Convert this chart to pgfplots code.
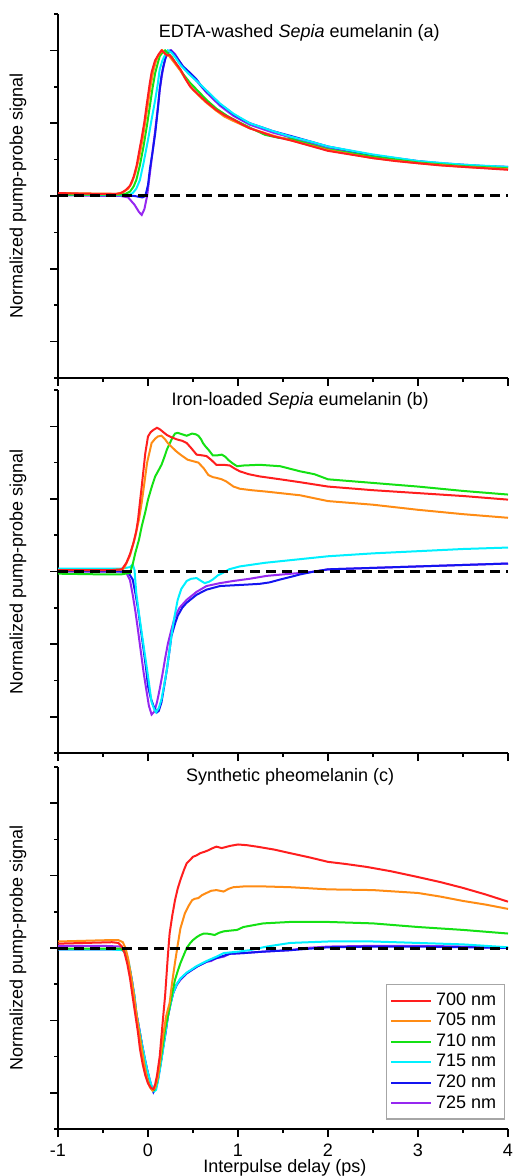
\documentclass[border=0pt]{standalone}
\usepackage{pgfplots}
\pgfplotsset{compat=1.18}
\usepackage{fontspec}
\setmainfont{Liberation Sans}
\definecolor{c700}{RGB}{255,30,30}
\definecolor{c705}{RGB}{255,140,20}
\definecolor{c710}{RGB}{20,225,20}
\definecolor{c715}{RGB}{0,240,255}
\definecolor{c720}{RGB}{20,20,240}
\definecolor{c725}{RGB}{150,40,240}
\pgfplotsset{every axis title shift=0pt}
\pgfplotsset{panel/.style={
  scale only axis, width=225pt,
  xmin=-1, xmax=4, ymin=-2.5, ymax=2.5,
  axis lines=left, axis line style={-, line width=0.8pt},
  xtick={-1,0,1,2,3,4}, minor xtick={-0.5,0.5,1.5,2.5,3.5},
  ytick={-2,-1,0,1,2}, minor ytick={-2.5,-1.5,-0.5,0.5,1.5,2.5},
  yticklabels={},
  tick align=outside, major tick length=4pt, minor tick length=2pt,
  every tick/.style={line width=0.8pt, black},
  every minor tick/.style={line width=0.8pt, black},
  /pgf/number format/assume math mode=true,
  font=\fontsize{9}{11}\selectfont,
  ylabel={Normalized pump-probe signal},
  ylabel style={at={(axis description cs:-0.0889,0.5)}, anchor=center},
  every axis plot/.append style={line width=1pt},
}}
\begin{document}
\begin{tikzpicture}
\useasboundingbox (0,0) rectangle (256.5pt,-588pt);
% ---------------- panel (a)
\begin{axis}[panel, height=182pt, at={(29pt,-189pt)}, anchor=south west,
  xticklabels={},
  title={EDTA-washed \textit{Sepia} eumelanin (a)},
  title style={at={(axis description cs:0.536,0.948)}, anchor=center}]
\addplot[c725] coordinates {(-1,0.01) (-0.3,0.0) (-0.22,-0.02) (-0.15,-0.12) (-0.1,-0.22) (-0.07,-0.26) (-0.04,-0.18) (-0.01,0.0) (0.02,0.3) (0.05,0.6) (0.08,0.9) (0.11,1.22) (0.13,1.46) (0.16,1.7) (0.19,1.88) (0.22,1.97) (0.26,2.0) (0.3,1.95) (0.39,1.77) (0.54,1.58) (0.65,1.42) (0.8,1.24) (0.95,1.1) (1.13,0.98) (1.39,0.87) (1.6,0.8) (2.0,0.66) (2.5,0.55) (3.0,0.47) (3.5,0.42) (4.0,0.39)};
\addplot[c720] coordinates {(-1,0.02) (-0.3,0.01) (-0.15,0.0) (-0.06,-0.02) (-0.03,0.0) (0.0,0.15) (0.02,0.36) (0.05,0.6) (0.08,0.86) (0.11,1.2) (0.13,1.46) (0.15,1.65) (0.17,1.78) (0.2,1.92) (0.22,1.99) (0.25,2.0) (0.28,1.96) (0.32,1.9) (0.39,1.78) (0.46,1.7) (0.54,1.6) (0.6,1.5) (0.65,1.44) (0.72,1.36) (0.8,1.26) (0.88,1.19) (0.95,1.12) (1.05,1.05) (1.13,1.0) (1.25,0.95) (1.39,0.89) (1.6,0.82) (1.8,0.75) (2.0,0.68) (2.25,0.62) (2.5,0.56) (2.75,0.52) (3.0,0.48) (3.25,0.45) (3.5,0.43) (3.75,0.41) (4.0,0.40)};
\addplot[c715] coordinates {(-1,0.02) (-0.3,0.01) (-0.2,0.02) (-0.17,0.04) (-0.13,0.1) (-0.09,0.22) (-0.05,0.45) (0.0,0.77) (0.04,1.05) (0.08,1.32) (0.11,1.55) (0.13,1.74) (0.16,1.86) (0.19,1.94) (0.22,2.0) (0.26,1.97) (0.3,1.91) (0.36,1.8) (0.45,1.68) (0.54,1.58) (0.65,1.45) (0.8,1.27) (0.95,1.13) (1.13,1.0) (1.39,0.89) (1.6,0.81) (1.8,0.75) (2.0,0.68) (2.5,0.57) (3.0,0.48) (3.5,0.43) (4.0,0.40)};
\addplot[c710] coordinates {(-1,0.02) (-0.3,0.02) (-0.25,0.03) (-0.2,0.06) (-0.16,0.13) (-0.13,0.22) (-0.09,0.42) (-0.05,0.68) (-0.01,0.98) (0.02,1.23) (0.05,1.48) (0.08,1.69) (0.11,1.83) (0.13,1.92) (0.16,1.97) (0.19,2.0) (0.22,1.96) (0.27,1.9) (0.33,1.78) (0.4,1.66) (0.47,1.55) (0.55,1.45) (0.65,1.32) (0.76,1.2) (0.88,1.1) (1.0,1.02) (1.13,0.94) (1.3,0.84) (1.45,0.8) (1.6,0.78) (1.8,0.71) (2.0,0.64) (2.5,0.54) (3.0,0.46) (3.5,0.41) (4.0,0.38)};
\addplot[c705] coordinates {(-1,0.04) (-0.35,0.03) (-0.28,0.05) (-0.22,0.1) (-0.18,0.18) (-0.14,0.32) (-0.1,0.52) (-0.06,0.78) (-0.03,1.02) (0.0,1.27) (0.03,1.52) (0.06,1.72) (0.09,1.86) (0.12,1.94) (0.16,2.0) (0.19,1.95) (0.23,1.93) (0.3,1.82) (0.36,1.72) (0.42,1.6) (0.5,1.46) (0.58,1.36) (0.65,1.28) (0.76,1.17) (0.85,1.09) (0.95,1.03) (1.13,0.93) (1.39,0.83) (1.6,0.76) (2.0,0.63) (2.5,0.52) (3.0,0.45) (3.5,0.40) (4.0,0.37)};
\addplot[c700] coordinates {(-1,0.04) (-0.6,0.03) (-0.35,0.03) (-0.3,0.04) (-0.25,0.08) (-0.2,0.14) (-0.16,0.26) (-0.126,0.42) (-0.1,0.6) (-0.07,0.8) (-0.04,1.02) (-0.015,1.25) (0.02,1.55) (0.04,1.7) (0.078,1.86) (0.12,1.95) (0.15,2.0) (0.18,1.97) (0.21,1.93) (0.24,1.94) (0.3,1.84) (0.36,1.74) (0.42,1.6) (0.47,1.5) (0.52,1.44) (0.58,1.37) (0.65,1.29) (0.76,1.18) (0.85,1.11) (0.95,1.05) (1.05,0.98) (1.13,0.93) (1.25,0.88) (1.39,0.82) (1.6,0.76) (1.8,0.69) (2.0,0.62) (2.25,0.57) (2.5,0.52) (2.75,0.48) (3.0,0.45) (3.25,0.42) (3.5,0.40) (3.75,0.38) (4.0,0.36)};
\addplot[black, line width=1.5pt, dash pattern=on 5pt off 3pt, forget plot] coordinates {(-1,0) (4,0)};
\end{axis}
% ---------------- panel (b)
\begin{axis}[panel, height=181.5pt, at={(29pt,-376.5pt)}, anchor=south west,
  xticklabels={},
  title={Iron-loaded \textit{Sepia} eumelanin (b)},
  title style={at={(axis description cs:0.538,0.97)}, anchor=center}]
\addplot[c725] coordinates {(-1,0.0) (-0.3,0.0) (-0.24,-0.02) (-0.2,-0.12) (-0.17,-0.32) (-0.14,-0.55) (-0.11,-0.82) (-0.08,-1.1) (-0.05,-1.38) (-0.02,-1.62) (0.01,-1.85) (0.04,-1.97) (0.07,-1.93) (0.1,-1.8) (0.13,-1.62) (0.16,-1.42) (0.19,-1.2) (0.22,-1.0) (0.26,-0.8) (0.3,-0.62) (0.35,-0.5) (0.43,-0.39) (0.54,-0.28) (0.65,-0.2) (0.8,-0.16) (0.95,-0.13) (1.13,-0.1) (1.32,-0.06) (1.5,-0.04) (1.69,-0.02) (1.85,0.0) (2.0,0.03) (2.5,0.05) (3.0,0.07) (3.5,0.09) (4.0,0.11)};
\addplot[c720] coordinates {(-1,0.01) (-0.3,0.0) (-0.22,-0.01) (-0.17,-0.11) (-0.14,-0.3) (-0.11,-0.52) (-0.08,-0.8) (-0.05,-1.07) (-0.02,-1.35) (0.0,-1.58) (0.03,-1.74) (0.06,-1.85) (0.1,-1.94) (0.12,-1.92) (0.15,-1.8) (0.18,-1.58) (0.21,-1.35) (0.24,-1.08) (0.26,-0.89) (0.3,-0.72) (0.33,-0.61) (0.38,-0.5) (0.43,-0.43) (0.54,-0.32) (0.65,-0.25) (0.8,-0.2) (0.95,-0.19) (1.1,-0.18) (1.24,-0.17) (1.35,-0.15) (1.47,-0.11) (1.6,-0.07) (1.69,-0.04) (1.85,0.0) (2.0,0.03) (2.5,0.05) (3.0,0.07) (3.5,0.09) (4.0,0.11)};
\addplot[c715] coordinates {(-1,0.04) (-0.3,0.04) (-0.2,0.06) (-0.17,0.1) (-0.15,0.02) (-0.13,-0.3) (-0.1,-0.58) (-0.07,-0.84) (-0.04,-1.1) (-0.01,-1.35) (0.02,-1.62) (0.04,-1.8) (0.07,-1.9) (0.09,-1.94) (0.12,-1.88) (0.15,-1.76) (0.18,-1.56) (0.21,-1.35) (0.24,-1.08) (0.26,-0.89) (0.29,-0.65) (0.33,-0.39) (0.37,-0.24) (0.43,-0.13) (0.48,-0.1) (0.54,-0.09) (0.59,-0.13) (0.63,-0.16) (0.68,-0.14) (0.72,-0.11) (0.78,-0.05) (0.83,-0.02) (0.9,0.03) (1.02,0.07) (1.3,0.12) (1.69,0.17) (2.0,0.21) (2.5,0.25) (3.0,0.28) (3.5,0.31) (4.0,0.33)};
\addplot[c710] coordinates {(-1,-0.03) (-0.5,-0.04) (-0.3,-0.04) (-0.2,-0.02) (-0.17,0.1) (-0.14,0.26) (-0.1,0.44) (-0.07,0.62) (-0.03,0.82) (0.0,0.99) (0.04,1.16) (0.08,1.31) (0.12,1.4) (0.15,1.47) (0.18,1.57) (0.21,1.68) (0.24,1.76) (0.27,1.84) (0.3,1.9) (0.33,1.91) (0.38,1.89) (0.43,1.87) (0.49,1.9) (0.53,1.89) (0.56,1.87) (0.59,1.82) (0.61,1.77) (0.64,1.72) (0.67,1.68) (0.72,1.6) (0.77,1.6) (0.82,1.61) (0.86,1.58) (0.89,1.54) (0.94,1.49) (0.99,1.45) (1.06,1.46) (1.24,1.47) (1.47,1.45) (1.69,1.38) (1.85,1.34) (2.0,1.27) (2.5,1.22) (3.0,1.17) (3.5,1.11) (4.0,1.06)};
\addplot[c705] coordinates {(-1,0.02) (-0.4,0.02) (-0.28,0.03) (-0.26,0.06) (-0.2,0.22) (-0.14,0.49) (-0.1,0.72) (-0.07,0.95) (-0.04,1.22) (-0.01,1.5) (0.02,1.66) (0.04,1.77) (0.08,1.83) (0.11,1.86) (0.15,1.87) (0.19,1.82) (0.22,1.77) (0.26,1.72) (0.31,1.66) (0.36,1.61) (0.44,1.54) (0.5,1.52) (0.56,1.5) (0.62,1.42) (0.67,1.33) (0.72,1.3) (0.76,1.29) (0.82,1.27) (0.87,1.24) (0.95,1.17) (1.02,1.14) (1.15,1.12) (1.32,1.1) (1.69,1.05) (2.0,0.97) (2.5,0.92) (3.0,0.85) (3.5,0.79) (4.0,0.74)};
\addplot[c700] coordinates {(-1,0.02) (-0.4,0.02) (-0.29,0.03) (-0.24,0.12) (-0.2,0.24) (-0.16,0.4) (-0.13,0.56) (-0.11,0.72) (-0.09,0.95) (-0.07,1.17) (-0.05,1.4) (-0.03,1.63) (0.0,1.86) (0.03,1.92) (0.06,1.95) (0.1,1.98) (0.13,1.96) (0.17,1.92) (0.21,1.88) (0.26,1.85) (0.32,1.82) (0.38,1.8) (0.43,1.77) (0.48,1.7) (0.54,1.61) (0.6,1.6) (0.65,1.59) (0.7,1.54) (0.76,1.47) (0.84,1.47) (0.91,1.46) (0.96,1.42) (1.02,1.38) (1.12,1.34) (1.24,1.31) (1.47,1.27) (1.69,1.23) (2.0,1.17) (2.5,1.12) (3.0,1.08) (3.5,1.04) (4.0,0.99)};
\addplot[black, line width=1.5pt, dash pattern=on 5pt off 3pt, forget plot] coordinates {(-1,0) (4,0)};
\end{axis}
% ---------------- panel (c)
\begin{axis}[panel, height=181pt, at={(29pt,-564.5pt)}, anchor=south west,
  title={Synthetic pheomelanin (c)},
  title style={at={(axis description cs:0.516,0.972)}, anchor=center},
  xlabel={Interpulse delay (ps)},
  xlabel style={at={(axis description cs:0.504,-0.108)}, anchor=center},
  reverse legend,
  legend style={at={(rel axis cs:0.993,0.40)}, anchor=north east, draw=gray!70, line width=0.6pt,
    font=\fontsize{9}{11}\selectfont, row sep=-1.5pt, inner xsep=2pt, inner ysep=2pt},
  legend cell align=left,
  legend image code/.code={\draw[#1] (0pt,0pt) -- (20pt,0pt);}]
\addplot[c725] coordinates {(-1,0.03) (-0.5,0.03) (-0.3,0.02) (-0.26,-0.03) (-0.23,-0.15) (-0.2,-0.32) (-0.18,-0.44) (-0.15,-0.68) (-0.13,-0.9) (-0.1,-1.1) (-0.07,-1.31) (-0.04,-1.52) (-0.01,-1.68) (0.02,-1.82) (0.04,-1.91) (0.07,-1.97) (0.09,-1.92) (0.11,-1.82) (0.14,-1.6) (0.17,-1.36) (0.2,-1.14) (0.22,-0.95) (0.25,-0.77) (0.28,-0.62) (0.32,-0.51) (0.36,-0.44) (0.43,-0.35) (0.54,-0.26) (0.65,-0.19) (0.7,-0.18) (0.76,-0.14) (0.84,-0.12) (0.91,-0.08) (1.06,-0.07) (1.28,-0.05) (1.58,-0.03) (1.75,0.0) (2.0,0.02) (2.5,0.03) (3.0,0.03) (3.5,0.02) (4.0,0.0)};
\addlegendentry{725 nm}
\addplot[c720] coordinates {(-1,-0.02) (-0.3,-0.02) (-0.26,-0.04) (-0.23,-0.15) (-0.2,-0.3) (-0.18,-0.44) (-0.15,-0.68) (-0.13,-0.9) (-0.1,-1.1) (-0.07,-1.31) (-0.04,-1.5) (-0.01,-1.68) (0.02,-1.84) (0.04,-1.92) (0.06,-1.99) (0.09,-1.92) (0.11,-1.82) (0.14,-1.6) (0.17,-1.36) (0.2,-1.12) (0.22,-0.95) (0.25,-0.77) (0.28,-0.62) (0.32,-0.5) (0.36,-0.43) (0.43,-0.35) (0.54,-0.26) (0.65,-0.19) (0.76,-0.14) (0.91,-0.08) (1.06,-0.07) (1.28,-0.05) (1.58,-0.03) (2.0,0.01) (2.5,0.02) (3.0,0.02) (3.5,0.01) (4.0,0.0)};
\addlegendentry{720 nm}
\addplot[c715] coordinates {(-1,-0.02) (-0.4,-0.02) (-0.28,-0.03) (-0.24,-0.08) (-0.21,-0.22) (-0.18,-0.44) (-0.15,-0.66) (-0.13,-0.9) (-0.1,-1.1) (-0.07,-1.31) (-0.04,-1.5) (-0.01,-1.68) (0.02,-1.82) (0.04,-1.91) (0.07,-1.98) (0.09,-1.96) (0.11,-1.84) (0.14,-1.62) (0.17,-1.38) (0.2,-1.12) (0.22,-0.95) (0.25,-0.78) (0.28,-0.62) (0.32,-0.5) (0.36,-0.42) (0.43,-0.34) (0.54,-0.25) (0.65,-0.18) (0.76,-0.12) (0.84,-0.07) (1.0,-0.05) (1.13,-0.03) (1.32,0.02) (1.58,0.07) (2.0,0.09) (2.5,0.09) (3.0,0.07) (3.5,0.05) (4.0,0.01)};
\addlegendentry{715 nm}
\addplot[c710] coordinates {(-1,-0.01) (-0.4,-0.01) (-0.3,-0.01) (-0.26,-0.05) (-0.23,-0.15) (-0.2,-0.32) (-0.17,-0.56) (-0.14,-0.82) (-0.11,-1.08) (-0.08,-1.3) (-0.05,-1.55) (-0.02,-1.75) (0.01,-1.88) (0.04,-1.95) (0.07,-1.96) (0.1,-1.85) (0.13,-1.62) (0.16,-1.38) (0.19,-1.12) (0.22,-0.95) (0.25,-0.75) (0.28,-0.56) (0.3,-0.44) (0.33,-0.32) (0.36,-0.21) (0.4,-0.09) (0.43,0.0) (0.47,0.07) (0.5,0.11) (0.54,0.15) (0.58,0.18) (0.62,0.2) (0.65,0.2) (0.7,0.19) (0.74,0.18) (0.79,0.21) (0.84,0.23) (0.91,0.24) (0.99,0.25) (1.06,0.29) (1.28,0.34) (1.58,0.36) (2.0,0.36) (2.5,0.34) (3.0,0.29) (3.5,0.25) (4.0,0.2)};
\addlegendentry{710 nm}
\addplot[c705] coordinates {(-1,0.09) (-0.7,0.1) (-0.4,0.11) (-0.33,0.11) (-0.28,0.08) (-0.25,0.0) (-0.22,-0.15) (-0.19,-0.38) (-0.16,-0.62) (-0.13,-0.9) (-0.1,-1.15) (-0.07,-1.4) (-0.04,-1.62) (-0.01,-1.8) (0.02,-1.92) (0.05,-1.97) (0.08,-1.93) (0.11,-1.78) (0.14,-1.5) (0.17,-1.2) (0.2,-0.95) (0.24,-0.76) (0.27,-0.46) (0.3,-0.2) (0.33,0.04) (0.36,0.27) (0.41,0.48) (0.45,0.58) (0.49,0.66) (0.52,0.68) (0.56,0.69) (0.6,0.73) (0.65,0.76) (0.7,0.79) (0.76,0.8) (0.84,0.78) (0.9,0.82) (0.95,0.84) (1.06,0.85) (1.3,0.85) (1.58,0.84) (2.0,0.81) (2.5,0.8) (3.0,0.76) (3.25,0.71) (3.5,0.65) (3.75,0.6) (4.0,0.54)};
\addlegendentry{705 nm}
\addplot[c700] coordinates {(-1,0.06) (-0.7,0.07) (-0.4,0.08) (-0.33,0.07) (-0.29,0.02) (-0.26,-0.07) (-0.23,-0.22) (-0.2,-0.42) (-0.17,-0.68) (-0.14,-0.93) (-0.11,-1.18) (-0.09,-1.39) (-0.06,-1.6) (-0.03,-1.76) (0.0,-1.87) (0.03,-1.93) (0.06,-1.95) (0.08,-1.88) (0.1,-1.76) (0.13,-1.5) (0.15,-1.21) (0.17,-0.93) (0.19,-0.66) (0.22,-0.12) (0.24,0.2) (0.27,0.45) (0.3,0.66) (0.33,0.82) (0.36,0.94) (0.4,1.08) (0.43,1.17) (0.47,1.22) (0.5,1.26) (0.54,1.28) (0.58,1.31) (0.63,1.33) (0.67,1.35) (0.72,1.38) (0.76,1.4) (0.82,1.38) (0.91,1.41) (1.0,1.43) (1.1,1.42) (1.21,1.4) (1.4,1.36) (1.58,1.31) (1.8,1.25) (2.0,1.19) (2.2,1.16) (2.43,1.12) (2.7,1.06) (3.0,0.98) (3.25,0.91) (3.5,0.83) (3.75,0.74) (4.0,0.64)};
\addlegendentry{700 nm}
\addplot[black, line width=1.5pt, dash pattern=on 5pt off 3pt, forget plot] coordinates {(-1,0) (4,0)};
\end{axis}
\end{tikzpicture}
\end{document}
